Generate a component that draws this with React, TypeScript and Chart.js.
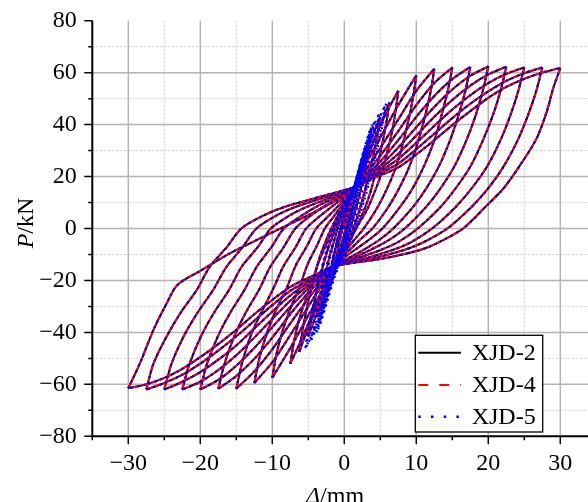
import React, { useEffect, useRef } from "react";
import { Chart, registerables } from "chart.js";

Chart.register(...registerables);

type Pt = [number, number];

// ---- axis ticks ----
const xMajorTicks = [-30, -20, -10, 0, 10, 20, 30];
const xMinorTicks = [-35, -25, -15, -5, 5, 15, 25, 35];
const yMajorTicks = [-80, -60, -40, -20, 0, 20, 40, 60, 80];
const yMinorTicks = [-70, -50, -30, -10, 10, 30, 50, 70];

const seriesNames = ["XJD-2", "XJD-4", "XJD-5"];

// ---- hysteresis cycles [displacement mm, load kN] ----
const cyc1: Pt[] = [[0,0],[0.6,7],[1.25,14],[1.0,10.5],[0.5,4],[0,-2],[-0.6,-8],[-1.25,-13],[-1.0,-9.5],[-0.5,-3],[0,2.5],[0.6,8]];
const cyc2: Pt[] = [[1.2,13.5],[1.8,20],[2.5,27],[2.2,22.5],[1.6,14],[1.0,6],[0.3,-1],[-0.5,-8.5],[-1.3,-15],[-1.9,-20.5],[-2.5,-25],[-2.2,-20.5],[-1.6,-12.5],[-1.0,-5],[-0.3,2],[0.5,9]];
const cyc3: Pt[] = [[1.3,15],[2.0,21.5],[2.8,29],[3.75,36],[3.45,31],[2.9,23],[2.2,14],[1.4,5.5],[0.6,-2],[-0.3,-8.5],[-1.2,-14],[-2.0,-20.5],[-2.9,-27.5],[-3.75,-34],[-3.45,-29],[-2.9,-21],[-2.2,-12.5],[-1.4,-4.5],[-0.6,3],[0.3,9.5]];
const cyc4: Pt[] = [[1.3,15.5],[2.1,21.5],[3.0,28.5],[4.0,36],[5.0,43],[4.7,37.5],[4.1,29],[3.3,19.5],[2.4,10],[1.5,2],[0.5,-5],[-0.5,-10.5],[-1.5,-15],[-2.4,-21.5],[-3.3,-28.5],[-4.2,-35.5],[-5.0,-41.5],[-4.7,-36],[-4.1,-27.5],[-3.3,-18],[-2.4,-9],[-1.4,-1],[-0.3,6.5],[0.8,12.5]];
const cyc5: Pt[] = [[1.6,16.5],[2.5,22],[3.5,29.5],[4.5,36.5],[5.4,42.5],[6.25,48.5],[5.95,42.5],[5.3,33],[4.4,22],[3.4,12],[2.3,4],[1.1,-3],[0,-8.5],[-1.5,-14],[-2.6,-21],[-3.7,-29],[-4.8,-37],[-5.6,-42.5],[-6.25,-47.5],[-5.95,-41.5],[-5.3,-32],[-4.4,-21],[-3.4,-11],[-2.3,-3],[-1.1,4],[0,9.5],[1.1,14]];
const cyc6: Pt[] = [[2.0,18.5],[3.0,26],[4.2,34.5],[5.3,41.5],[6.4,47.5],[7.5,53],[7.15,45.6],[6.7,38.2],[6.0,29.7],[5.1,20.7],[4.1,13.3],[3.1,6.9],[1.6,0],[0.5,-5],[-0.5,-9.5],[-1.5,-14],[-2.8,-22],[-4.0,-30],[-5.2,-38],[-6.4,-45.5],[-7.5,-52],[-7.0,-43.7],[-6.25,-34.8],[-5.4,-27.6],[-4.4,-19.8],[-3.5,-12.5],[-2.5,-6],[-1.6,0],[-0.5,5.5],[0.5,11]];
const cyc7: Pt[] = [[1.5,16],[3,25],[5,35],[7.5,47.5],[10,59],[9.56,50.7],[8.98,42.5],[8.17,33],[7.08,23],[5.84,14.8],[4.52,7.7],[2.7,0],[1.5,-4],[0.3,-8],[-0.7,-11],[-1.5,-13.5],[-3,-23.5],[-5,-33.5],[-7.5,-46],[-10,-57.5],[-9.42,-48.3],[-8.47,-38.5],[-7.45,-30.5],[-6.13,-21.9],[-5.1,-13.8],[-3.8,-6.6],[-2.7,0],[-1.5,4.5],[-0.3,9],[0.7,12.5]];
const cyc8: Pt[] = [[1.5,16],[3,22.5],[5,31],[7.5,42],[10,53],[12.5,61.5],[12.0,52.9],[11.3,44.3],[10.35,34.4],[9.06,24],[7.6,15.4],[6.05,8],[3.9,0],[2.3,-4],[0.9,-7.8],[-0.4,-11],[-1.5,-13.5],[-3,-21.2],[-5,-30],[-7.5,-41],[-10,-51.5],[-12.5,-59.5],[-11.8,-50],[-10.7,-39.9],[-9.5,-31.5],[-7.95,-22.6],[-6.75,-14.3],[-5.2,-6.8],[-3.9,0],[-2.3,4.5],[-0.9,8.5],[0.3,12]];
const cyc9: Pt[] = [[1.5,16],[3,21],[5,28],[7.5,37.5],[10,47.5],[12.5,56],[15,62],[14.4,53.3],[13.6,44.6],[12.6,34.7],[11.1,24.2],[9.5,15.5],[7.7,8.1],[5.3,0],[3.5,-4.2],[1.7,-7.8],[0,-11],[-1.5,-13.8],[-3,-19.8],[-5,-27],[-7.5,-36.5],[-10,-46.5],[-12.5,-55],[-15,-61.7],[-14.2,-51.8],[-13.0,-41.3],[-11.6,-32.7],[-9.9,-23.4],[-8.5,-14.8],[-6.75,-7.1],[-5.3,0],[-3.5,4.5],[-1.7,8.5],[0,12]];
const cyc10: Pt[] = [[1.5,16],[3,20.2],[5,25.8],[7.5,34],[10,43],[12.5,51],[15,57.5],[17.5,62.2],[16.86,53.5],[16.0,44.8],[14.8,34.8],[13.2,24.3],[11.4,15.5],[9.5,8.1],[6.8,0],[4.8,-4.5],[2.8,-8],[0.7,-11.2],[-1.5,-14],[-3,-19],[-5,-24.7],[-7.5,-33],[-10,-42],[-12.5,-50.2],[-15,-56.8],[-17.5,-61.7],[-16.6,-51.8],[-15.25,-41.3],[-13.75,-32.7],[-11.8,-23.4],[-10.3,-14.8],[-8.4,-7.1],[-6.8,0],[-4.8,4.7],[-2.8,8.5],[-0.7,11.8]];
const cyc11: Pt[] = [[1.5,16],[3,19.5],[5,24.2],[7.5,31.2],[10,39],[12.5,46.8],[15,53.5],[17.5,58.8],[20,62.4],[19.3,53.7],[18.4,44.9],[17.1,34.9],[15.36,24.3],[13.4,15.6],[11.3,8.1],[8.4,0],[6,-4.8],[3.8,-8],[1.2,-11.3],[-1.5,-14.2],[-3,-18.2],[-5,-23],[-7.5,-30.2],[-10,-38],[-12.5,-46],[-15,-52.8],[-17.5,-58.3],[-20,-62],[-19.07,-52.1],[-17.56,-41.5],[-15.94,-32.9],[-13.85,-23.6],[-12.2,-14.9],[-10.1,-7.1],[-8.4,0],[-6,4.8],[-3.8,8.5],[-1.2,12]];
const cyc12: Pt[] = [[1.5,16],[3,19],[5,23],[7.5,28.8],[10,35.8],[12.5,43],[15,49.5],[17.5,55],[20,59.3],[22.5,62.3],[21.76,53.6],[20.8,44.9],[19.4,34.9],[17.6,24.3],[15.5,15.6],[13.3,8.1],[10.2,0],[7.6,-5],[5.3,-8],[2.3,-11],[-1.5,-14.3],[-3,-17.7],[-5,-21.8],[-7.5,-27.8],[-10,-34.8],[-12.5,-42],[-15,-48.8],[-17.5,-54.5],[-20,-59],[-22.5,-62],[-21.5,-52.1],[-19.9,-41.5],[-18.2,-32.9],[-16.0,-23.6],[-14.3,-14.9],[-12.0,-7.1],[-10.2,0],[-7.6,5],[-5.3,8.2],[-2.3,11.5]];
const cyc13: Pt[] = [[1.5,16],[3,18.6],[5,22],[7.5,26.8],[10,33],[12.5,39.5],[15,45.8],[17.5,51.3],[20,56],[22.5,59.5],[25,62],[24.2,53.3],[23.2,44.6],[21.8,34.7],[19.9,24.2],[17.7,15.5],[15.4,8.1],[12.2,0],[9.3,-5.2],[6.8,-8.2],[3.3,-11.2],[-1.5,-14.3],[-3,-17.3],[-5,-20.8],[-7.5,-25.8],[-10,-32],[-12.5,-38.5],[-15,-45],[-17.5,-50.5],[-20,-55.3],[-22.5,-59],[-25,-62],[-24.0,-52.1],[-22.3,-41.5],[-20.5,-32.9],[-18.2,-23.6],[-16.4,-14.9],[-14.1,-7.1],[-12.2,0],[-9.3,5.2],[-6.8,8.3],[-3.3,11.5]];
const cyc14: Pt[] = [[1.5,16],[3,18.3],[5,21.3],[7.5,25],[10,30.5],[12.5,36.5],[15,42.5],[17.5,48],[20,52.8],[22.5,56.8],[25,59.8],[27.5,62],[26.7,53.3],[25.65,44.6],[24.2,34.7],[22.2,24.2],[20.0,15.5],[17.6,8.1],[14.3,0],[11,-5.3],[8.3,-8.3],[4.3,-11.3],[-1.5,-14.4],[-3,-17],[-5,-20],[-7.5,-24],[-10,-29.5],[-12.5,-35.5],[-15,-41.5],[-17.5,-47],[-20,-52],[-22.5,-56.3],[-25,-59.5],[-27.5,-62],[-26.5,-52],[-24.7,-41.7],[-22.8,-32.7],[-20.5,-23.7],[-18.7,-14.8],[-16.3,-7.1],[-14.3,0],[-11,5.3],[-8.3,8.3],[-4.3,11.5]];
const cyc15: Pt[] = [[1.5,16],[3,18],[5,20.5],[7.5,23.5],[10,28.5],[12.5,34],[15,39.8],[17.5,45.2],[20,50.3],[22.5,54.5],[25,57.6],[27.5,60],[30,61.8],[29.0,53.8],[28.1,44.8],[26.7,34.6],[24.4,24.3],[22.1,15.4],[19.8,8.9],[16.5,0],[13,-5.5],[10.5,-8.3],[5.5,-11.5],[-1.5,-14.5],[-3,-16.5],[-5,-19],[-7.5,-22.5],[-10,-27.5],[-12.5,-33],[-15,-39],[-17.5,-44.5],[-20,-49.5],[-22.5,-54],[-25,-57.5],[-27.5,-60],[-30,-61.5],[-28.4,-52],[-26.5,-39],[-24.7,-29],[-23.2,-21.8],[-20,-16.3],[-15.9,-9.6],[-12.2,-4.5],[-8.5,0.5],[-4.5,5.8],[-1,11],[1.2,14.5]];

// extra small (elastic-range) cycles of XJD-5 forming the dense blue band
const x5Small1: Pt[] = [[1.2,14],[2.0,22.5],[2.8,30.5],[2.45,25.5],[1.7,16],[0.9,6.5],[0.1,-2],[-0.7,-9.5],[-1.5,-17],[-2.3,-25],[-2.9,-30],[-2.55,-25],[-1.8,-16],[-1.0,-6.5],[-0.3,2],[0.4,9]];
const x5Small2: Pt[] = [[1.4,15.5],[2.2,24],[3.0,32],[3.7,38],[3.35,32.5],[2.65,24],[1.85,14.5],[1.05,5.5],[0.2,-3],[-0.6,-10.5],[-1.5,-18.5],[-2.4,-27],[-3.2,-34.5],[-3.6,-38],[-3.25,-32],[-2.55,-23],[-1.8,-14],[-1.0,-5],[-0.2,4],[0.6,10.5]];
const x5Small3: Pt[] = [[1.3,16],[2.1,23],[2.9,30.5],[3.6,37],[4.2,41],[3.85,35.5],[3.15,27],[2.35,17.5],[1.5,8],[0.6,-1],[-0.3,-9],[-1.2,-16],[-2.1,-23.5],[-3.0,-31.5],[-3.8,-38.5],[-4.3,-41],[-3.95,-35],[-3.2,-26],[-2.4,-16.5],[-1.6,-7],[-0.8,1.5],[0,8.5],[0.8,13]];
const x5Small4: Pt[] = [[1.5,16],[2.4,25],[3.3,33],[4.1,39.5],[4.8,44],[4.45,38],[3.7,29],[2.9,19.5],[2.0,9.5],[1.1,0.5],[0.2,-7],[-0.7,-13.5],[-1.6,-20.5],[-2.6,-28.5],[-3.6,-36.5],[-4.6,-43],[-4.25,-37],[-3.5,-27],[-2.7,-17],[-1.9,-8],[-1.0,0.5],[-0.1,7.5],[0.9,13]];
const x5Small5: Pt[] = [[1.8,18],[2.8,27],[3.8,35],[4.8,42],[5.8,48],[5.45,41.5],[4.7,32],[3.8,21.5],[2.8,11],[1.8,2],[0.7,-6],[-0.4,-12.5],[-1.5,-19],[-2.6,-27],[-3.7,-35.5],[-4.6,-41.5],[-5.4,-46],[-5.05,-39.5],[-4.3,-29],[-3.4,-18],[-2.5,-8.5],[-1.5,0],[-0.4,7.5],[0.8,13.5]];
const x5Small6: Pt[] = [[1.7,17.5],[2.7,26.5],[3.7,34.5],[4.7,41.5],[5.6,47],[5.25,40.5],[4.5,31],[3.6,20.5],[2.6,10.5],[1.6,1.5],[0.5,-6.5],[-0.6,-13],[-1.7,-20],[-2.8,-28.5],[-3.9,-37],[-4.9,-43.5],[-5.3,-45.5],[-4.9,-38.5],[-4.1,-27.5],[-3.2,-17],[-2.3,-7.5],[-1.3,1],[-0.2,8.5],[0.9,14]];
const x5Small7: Pt[] = [[1.0,12.5],[1.9,22],[2.8,31],[3.5,37.5],[3.15,31.5],[2.4,22],[1.6,12.5],[0.8,3.5],[0,-4.5],[-0.8,-12],[-1.7,-20.5],[-2.6,-29],[-3.4,-36.5],[-3.05,-30.5],[-2.3,-21],[-1.5,-11.5],[-0.7,-2.5],[0.1,6],[0.9,12]];
const x5Small8: Pt[] = [[1.6,18],[2.5,27.5],[3.3,35],[3.9,40],[3.55,34],[2.8,24.5],[2.0,15],[1.2,5.5],[0.4,-3],[-0.5,-11],[-1.4,-19],[-2.3,-27.5],[-3.1,-35],[-3.8,-40],[-3.45,-34],[-2.7,-24.5],[-1.9,-15],[-1.1,-5.5],[-0.3,3],[0.6,11]];
const x5Small9: Pt[] = [[1.4,16.5],[2.3,25.5],[3.1,33],[3.8,39],[3.4,33],[2.6,23],[1.8,13.5],[1.0,4.5],[0.1,-4],[-0.8,-12],[-1.7,-20],[-2.6,-28.5],[-3.5,-36.5],[-3.2,-31],[-2.4,-21.5],[-1.6,-12],[-0.8,-3],[0,5.5],[0.8,12]];

// the three specimens' large loops coincide in the figure
const xjd2Cycles = [cyc1, cyc2, cyc3, cyc4, cyc5, cyc6, cyc7, cyc8, cyc9, cyc10, cyc11, cyc12, cyc13, cyc14, cyc15];
const xjd4Cycles = [cyc1, cyc2, cyc3, cyc4, cyc5, cyc6, cyc7, cyc8, cyc9, cyc10, cyc11, cyc12, cyc13, cyc14, cyc15];
const xjd5Cycles = [cyc1, cyc2, x5Small1, x5Small9, cyc3, x5Small7, x5Small2, x5Small8, cyc4, x5Small3, x5Small4, cyc5, x5Small5, x5Small6, cyc6, cyc7, cyc8, cyc9, cyc10, cyc11, cyc12, cyc13, cyc14, cyc15];

const FONT = "'Liberation Serif', 'Times New Roman', serif";

function splitAtPeaks(path: Pt[]): Pt[][] {
  const out: Pt[][] = [];
  let cur: Pt[] = [path[0]];
  for (let i = 1; i < path.length; i++) {
    cur.push(path[i]);
    if (i < path.length - 1) {
      const a = path[i - 1][0], b = path[i][0], c = path[i + 1][0];
      if ((b > a && b > c) || (b < a && b < c)) {
        out.push(cur);
        cur = [path[i]];
      }
    }
  }
  out.push(cur);
  return out;
}

const fmt = (n: number) => (n < 0 ? "\u2212" + Math.abs(n) : String(n));

const framePlugin = {
  id: "frame",
  beforeDatasetsDraw(chart: any) {
    const { ctx, chartArea: a, scales } = chart;
    const xs = scales.x, ys = scales.y;
    ctx.save();
    ctx.lineWidth = 1;
    ctx.strokeStyle = "#cdcdcd";
    ctx.setLineDash([2, 2]);
    ctx.beginPath();
    for (const v of xMinorTicks) {
      if (Math.abs(v) >= 35) continue;
      const p = xs.getPixelForValue(v);
      ctx.moveTo(p, a.top); ctx.lineTo(p, a.bottom);
    }
    for (const v of yMinorTicks) {
      const p = ys.getPixelForValue(v);
      ctx.moveTo(a.left, p); ctx.lineTo(a.right, p);
    }
    ctx.stroke();
    ctx.setLineDash([]);
    ctx.strokeStyle = "#b4b4b4";
    ctx.lineWidth = 1.5;
    ctx.beginPath();
    for (const v of xMajorTicks) {
      const p = xs.getPixelForValue(v);
      ctx.moveTo(p, a.top); ctx.lineTo(p, a.bottom);
    }
    for (const v of yMajorTicks) {
      if (Math.abs(v) >= 80) continue;
      const p = ys.getPixelForValue(v);
      ctx.moveTo(a.left, p); ctx.lineTo(a.right, p);
    }
    ctx.stroke();
    ctx.restore();
  },
  afterDatasetsDraw(chart: any) {
    const { ctx, chartArea: a, scales } = chart;
    const xs = scales.x, ys = scales.y;
    ctx.save();
    ctx.strokeStyle = "#000";
    ctx.lineWidth = 2;
    ctx.beginPath();
    ctx.moveTo(a.left, a.top); ctx.lineTo(a.left, a.bottom + 1);
    ctx.moveTo(a.left - 1, a.bottom); ctx.lineTo(a.right, a.bottom);
    ctx.stroke();
    ctx.lineWidth = 1.5;
    ctx.beginPath();
    for (const v of xMajorTicks) { const p = xs.getPixelForValue(v); ctx.moveTo(p, a.bottom); ctx.lineTo(p, a.bottom + 8); }
    for (const v of xMinorTicks) { const p = xs.getPixelForValue(v); ctx.moveTo(p, a.bottom); ctx.lineTo(p, a.bottom + 4); }
    for (const v of yMajorTicks) { const p = ys.getPixelForValue(v); ctx.moveTo(a.left, p); ctx.lineTo(a.left - 8, p); }
    for (const v of yMinorTicks) { const p = ys.getPixelForValue(v); ctx.moveTo(a.left, p); ctx.lineTo(a.left - 4, p); }
    ctx.stroke();

    // legend
    const lx = 415.3, ly = 335.3, lw = 127.4, lh = 96.7;
    ctx.fillStyle = "#fff";
    ctx.fillRect(lx, ly, lw, lh);
    ctx.strokeStyle = "#000";
    ctx.lineWidth = 1.3;
    ctx.strokeRect(lx, ly, lw, lh);
    const rows = [
      { y: 352.7, color: "#000", dash: [] as number[], w: 2 },
      { y: 385, color: "#ff0000", dash: [10, 11], w: 2.2 },
      { y: 416.7, color: "#0000ff", dash: [2.5, 10.2], w: 2.5 },
    ];
    rows.forEach((r, i) => {
      ctx.strokeStyle = r.color;
      ctx.lineWidth = r.w;
      ctx.setLineDash(r.dash);
      ctx.beginPath();
      ctx.moveTo(418.3, r.y); ctx.lineTo(461, r.y);
      ctx.stroke();
      ctx.setLineDash([]);
      ctx.fillStyle = "#000";
      ctx.font = `24px ${FONT}`;
      ctx.textBaseline = "middle";
      ctx.textAlign = "left";
      ctx.fillText(seriesNames[i], 471.7, r.y + 1);
    });

    // axis titles
    ctx.fillStyle = "#000";
    ctx.textBaseline = "alphabetic";
    ctx.textAlign = "left";
    ctx.save();
    ctx.translate(33.3, 223);
    ctx.rotate(-Math.PI / 2);
    ctx.font = `italic 24px ${FONT}`;
    const wP = ctx.measureText("P").width;
    ctx.font = `24px ${FONT}`;
    const wK = ctx.measureText("/kN").width;
    let sx = -(wP + wK) / 2;
    ctx.font = `italic 24px ${FONT}`;
    ctx.fillText("P", sx, 0);
    ctx.font = `24px ${FONT}`;
    ctx.fillText("/kN", sx + wP, 0);
    ctx.restore();
    ctx.font = `italic 24px ${FONT}`;
    const wD = ctx.measureText("\u0394").width;
    ctx.font = `24px ${FONT}`;
    const wM = ctx.measureText("/mm").width;
    sx = 335 - (wD + wM) / 2;
    ctx.font = `italic 24px ${FONT}`;
    ctx.fillText("\u0394", sx, 503);
    ctx.font = `24px ${FONT}`;
    ctx.fillText("/mm", sx + wD, 503);
    ctx.restore();
  },
};

export default function App() {
  const ref = useRef<HTMLCanvasElement>(null);
  useEffect(() => {
    const canvas = ref.current;
    if (!canvas) return;
    const specs = [
      { cycles: xjd5Cycles, color: "#0000ff", dash: [2, 4], width: 2.2 },
      { cycles: xjd4Cycles, color: "#ff0000", dash: [7, 2], width: 2 },
      { cycles: xjd2Cycles, color: "#000000", dash: [] as number[], width: 2 },
    ];
    const datasets: any[] = [];
    specs.forEach((s) => {
      const path: Pt[] = ([] as Pt[]).concat(...s.cycles);
      splitAtPeaks(path).forEach((br) => {
        datasets.push({
          data: br.map(([x, y]) => ({ x, y })),
          showLine: true,
          borderColor: s.color,
          borderWidth: s.width,
          borderDash: s.dash,
          pointRadius: 0,
          fill: false,
          tension: 0.3,
        });
      });
    });
    const chart = new Chart(canvas, {
      type: "scatter",
      data: { datasets },
      options: {
        animation: false,
        responsive: false,
        devicePixelRatio: 1,
        layout: { padding: { left: 0, top: 20.7, right: 23.7, bottom: 0 } },
        plugins: { legend: { display: false }, tooltip: { enabled: false } },
        scales: {
          x: {
            type: "linear",
            min: -35,
            max: 35,
            grid: { display: false, drawTicks: false, tickLength: 0 },
            border: { display: false },
            ticks: {
              stepSize: 5,
              autoSkip: false,
              maxRotation: 0,
              padding: 13,
              color: "#000",
              font: { family: FONT, size: 24 },
              callback: (v: any) => {
                const n = Number(v);
                return xMajorTicks.includes(n) ? fmt(n) : "";
              },
            },
            afterFit: (s: any) => { s.height = 93.7; },
          },
          y: {
            type: "linear",
            min: -80,
            max: 80,
            grid: { display: false, drawTicks: true, tickLength: 14 },
            border: { display: false },
            ticks: {
              stepSize: 10,
              autoSkip: false,
              padding: 1.6,
              color: "#000",
              font: { family: FONT, size: 24 },
              callback: (v: any) => {
                const n = Number(v);
                return yMajorTicks.includes(n) ? fmt(n) : "";
              },
            },
            afterFit: (s: any) => { s.width = 92.3; },
          },
        },
      } as any,
      plugins: [framePlugin],
    });
    return () => chart.destroy();
  }, []);
  return (
    <div style={{ position: "fixed", left: 0, top: 0, width: 588, height: 502, overflow: "hidden", background: "#fff" }}>
      <canvas ref={ref} width={620} height={530} style={{ display: "block", width: 620, height: 530 }} />
    </div>
  );
}
